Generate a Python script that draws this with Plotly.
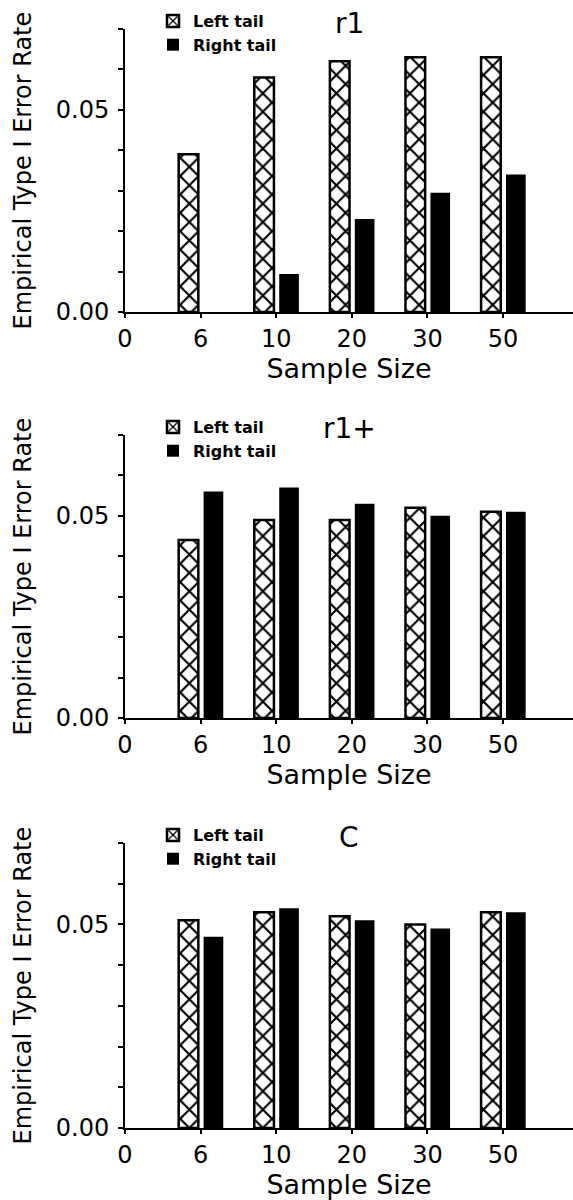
import plotly.graph_objects as go

# ---------------- data ----------------
x_labels = ["0", "6", "10", "20", "30", "50"]
sample_sizes = ["6", "10", "20", "30", "50"]
panel_titles = ["r1", "r1+", "C"]

r1_left = [0.039, 0.058, 0.062, 0.063, 0.063]
r1_right = [0.0, 0.0094, 0.023, 0.0295, 0.034]

r1plus_left = [0.044, 0.049, 0.049, 0.052, 0.051]
r1plus_right = [0.056, 0.057, 0.053, 0.050, 0.051]

c_left = [0.051, 0.053, 0.052, 0.050, 0.053]
c_right = [0.047, 0.054, 0.051, 0.049, 0.053]

y_tickvals = [0.00, 0.01, 0.02, 0.03, 0.04, 0.05, 0.06, 0.07]
y_ticktext = ["0.00", "", "", "", "", "0.05", "", ""]

series = [(r1_left, r1_right), (r1plus_left, r1plus_right), (c_left, c_right)]

# ---------------- layout geometry (pixels) ----------------
W, H = 573, 1200
FONT = "DejaVu Sans"
panel_px = [(29, 312), (435, 718), (843, 1128)]  # (top, zero line)
x0_px = 125

fig = go.Figure()

for i, (left, right) in enumerate(series):
    sfx = "" if i == 0 else str(i + 1)
    leg = "legend" if i == 0 else f"legend{i + 1}"
    fig.add_trace(go.Bar(
        x=sample_sizes, y=left, name="Left tail",
        xaxis="x" + sfx, yaxis="y" + sfx, legend=leg,
        width=0.26, offset=-0.29,
        marker=dict(color="white",
                    line=dict(color="black", width=2.5),
                    pattern=dict(shape="x", fgcolor="black", bgcolor="white",
                                 size=13, solidity=0.3, fillmode="replace")),
    ))
    fig.add_trace(go.Bar(
        x=sample_sizes, y=right, name="Right tail",
        xaxis="x" + sfx, yaxis="y" + sfx, legend=leg,
        width=0.26, offset=0.04,
        marker=dict(color="black", line=dict(color="black", width=0)),
    ))

layout = dict(
    width=W, height=H,
    margin=dict(l=0, r=0, t=0, b=0),
    paper_bgcolor="white", plot_bgcolor="white",
    barmode="overlay",
    font=dict(family=FONT, color="black"),
    annotations=[],
)

for i, (top, zero) in enumerate(panel_px):
    sfx = "" if i == 0 else str(i + 1)
    ydom = [1 - zero / H, 1 - top / H]
    layout["xaxis" + sfx] = dict(
        domain=[x0_px / W, 1], anchor="y" + sfx,
        type="category", categoryorder="array", categoryarray=x_labels,
        range=[0, (W - x0_px) / 75.6],
        tickvals=x_labels, ticktext=x_labels,
        showline=True, linecolor="black", linewidth=2,
        ticks="outside", ticklen=4, tickwidth=2, tickcolor="black",
        tickfont=dict(size=24, family=FONT),
        showgrid=False, zeroline=False, automargin=False,
        title=dict(text="Sample Size", font=dict(size=27, family=FONT), standoff=4),
    )
    layout["yaxis" + sfx] = dict(
        domain=ydom, anchor="x" + sfx,
        range=[0, 0.07],
        tickvals=y_tickvals, ticktext=y_ticktext,
        showline=True, linecolor="black", linewidth=2,
        ticks="outside", ticklen=5, tickwidth=2, tickcolor="black",
        tickfont=dict(size=24, family=FONT), ticklabelstandoff=4,
        showgrid=False, zeroline=False, automargin=False,
    )
    leg = "legend" if i == 0 else f"legend{i + 1}"
    layout[leg] = dict(
        x=153 / W, xanchor="left",
        y=1 - (top + 4) / H, yanchor="middle",
        bgcolor="rgba(0,0,0,0)", borderwidth=0,
        font=dict(size=16, family=FONT, weight="bold"),
        tracegroupgap=0, itemwidth=30,
    )
    layout["annotations"].append(dict(
        text="Empirical Type I Error Rate", textangle=-90,
        xref="paper", yref="paper", x=22 / W, y=1 - (top + zero) / 2 / H,
        xanchor="center", yanchor="middle", showarrow=False,
        font=dict(size=24, family=FONT),
    ))
    layout["annotations"].append(dict(
        text=panel_titles[i],
        xref="paper", yref="paper", x=349 / W, y=1 - (top - 6) / H,
        xanchor="center", yanchor="middle", showarrow=False,
        font=dict(size=28, family=FONT),
    ))

fig.update_layout(**layout)
fig.write_html("out.html", config={"displayModeBar": False},
               post_script="document.body.style.margin='0';")
